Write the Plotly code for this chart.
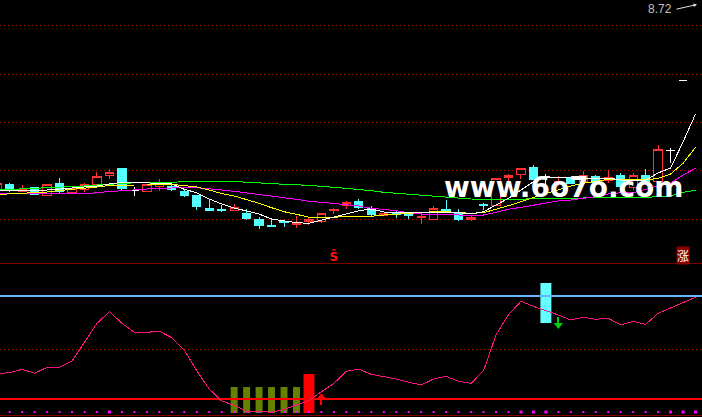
import plotly.graph_objects as go

BARS = list(range(-1, 56))
OPEN = [6.91,6.96,6.883,6.923,6.85,6.97,6.873,6.91,6.957,7.05,7.12,6.90,6.883,6.94,6.933,6.89,6.85,6.72,6.703,6.70,6.67,6.61,6.545,6.583,6.557,6.583,6.59,6.693,6.75,6.79,6.72,6.65,6.67,6.67,6.623,6.61,6.705,6.68,6.603,6.755,6.743,7.023,7.053,7.13,7.035,6.98,7.02,6.983,7.037,7.00,7.05,6.93,7.05,6.99,7.30,8.00,None]
HIGH = [6.97,6.97,6.95,6.93,6.96,7.02,6.93,6.973,7.08,7.11,7.12,6.93,6.96,7.01,6.947,6.913,6.85,6.80,6.75,6.76,6.71,6.63,6.62,6.60,6.64,6.62,6.67,6.723,6.79,6.81,6.74,6.67,6.69,6.67,6.67,6.74,6.80,6.71,6.64,6.77,7.02,7.06,7.12,7.15,7.06,7.04,7.03,7.09,7.05,7.10,7.07,7.07,7.11,7.35,7.32,8.00,None]
LOW = [6.90,6.883,6.88,6.86,6.85,6.87,6.86,6.883,6.93,7.01,6.90,6.843,6.883,6.893,6.89,6.83,6.70,6.69,6.68,6.69,6.60,6.51,6.53,6.53,6.52,6.55,6.57,6.66,6.71,6.71,6.64,6.65,6.62,6.61,6.56,6.60,6.68,6.59,6.59,6.70,6.74,6.95,7.01,7.00,6.95,6.94,6.96,6.98,6.97,6.97,6.92,6.90,6.98,6.97,7.17,8.00,None]
CLOSE = [6.97,6.907,6.907,6.86,6.96,6.883,6.92,6.96,7.04,7.08,6.92,6.90,6.96,6.97,6.91,6.85,6.74,6.70,6.697,6.725,6.62,6.55,6.535,6.573,6.573,6.607,6.67,6.71,6.78,6.73,6.66,6.67,6.66,6.643,6.64,6.72,6.70,6.61,6.627,6.75,7.02,7.047,7.12,7.01,7.035,6.99,6.97,7.05,6.977,7.03,6.94,7.05,6.99,7.31,7.30,8.00,None]

MA5 = [6.90,6.90,6.90,6.90,6.90,6.91,6.92,6.93,6.94,6.96,6.977,6.977,6.97,6.97,6.96,6.907,6.873,6.81,6.76,6.72,6.693,6.66,6.61,6.593,6.573,6.567,6.60,6.63,6.667,6.693,6.71,6.68,6.673,6.673,6.673,6.673,6.673,6.673,6.66,6.683,6.75,6.817,6.90,6.983,7.027,7.027,7.02,7.01,7.02,7.02,7.00,7.00,7.00,7.07,7.12,7.38,7.66]
MA10 = [6.855,6.86,6.865,6.875,6.88,6.895,6.905,6.915,6.93,6.945,6.95,6.95,6.95,6.955,6.955,6.945,6.93,6.90,6.865,6.84,6.807,6.767,6.723,6.683,6.657,6.627,6.627,6.627,6.637,6.637,6.637,6.65,6.66,6.667,6.677,6.683,6.683,6.673,6.667,6.673,6.707,6.743,6.783,6.827,6.867,6.90,6.94,6.967,6.99,7.007,7.007,7.00,7.00,7.017,7.06,7.167,7.327]
MA20 = [6.868,6.867,6.865,6.863,6.86,6.857,6.857,6.86,6.875,6.885,6.895,6.905,6.91,6.915,6.922,6.925,6.923,6.915,6.90,6.887,6.87,6.853,6.833,6.823,6.807,6.787,6.777,6.767,6.757,6.74,6.717,6.707,6.693,6.673,6.66,6.66,6.66,6.65,6.647,6.65,6.677,6.707,6.727,6.75,6.773,6.79,6.80,6.817,6.833,6.86,6.873,6.873,6.907,6.94,6.967,7.05,7.117]
MA60 = [6.90,6.905,6.91,6.915,6.922,6.927,6.933,6.94,6.95,6.958,6.967,6.972,6.975,6.977,6.98,6.985,6.987,6.987,6.987,6.985,6.977,6.967,6.963,6.957,6.953,6.947,6.937,6.927,6.917,6.907,6.893,6.877,6.867,6.857,6.847,6.837,6.823,6.817,6.81,6.807,6.807,6.807,6.807,6.807,6.807,6.807,6.813,6.82,6.82,6.82,6.823,6.827,6.827,6.833,6.84,6.877,6.897]
OSC = [25.5,26.3,29.7,25.7,31.7,31.7,38,57.3,75.7,87.3,75.7,66.7,66.7,67.7,61.3,49,28.3,10,-2,-6.3,-12.3,-12.3,-13.3,-10.3,-6.3,-1.7,7.3,15.7,27.7,29.7,24.7,22.3,20,16.7,14,20,22.7,17.7,15.7,28.3,64,84.3,97.7,92.7,88.7,84,79,81.7,79.7,80.7,74,77.7,74.7,85.7,91,96.7,101.7]

PRICE_GRID = [8.547, 8.055, 7.575, 7.095, 6.607]
OSC_GRID = [49.7]
LEVEL_BLUE = 103
LEVEL_RED = 0
LEVEL_SPAN = [-0.78, 55.5]
GREEN_BARS = [18,19,20,21,22,23]
GREEN_TOP = [12,12,12,12,12,12]
GREEN_BASE = [-14,-14,-14,-14,-14,-14]
RED_BAR, RED_TOP, RED_BASE = 24, 25, -14
CYAN_BAR, CYAN_TOP, CYAN_BASE = 43, 116, 76
DOT_SMALL = [0,1,2,3,4,5,6,7,9,10,11,12,13,14,15,16,17,18,19,20,21,22,23,24,25,26,27,28,29,30,31,32,33,34,35,36,37,38,39,40,44,45,46,47,48,49,50,51,52]
DOT_BIG = [8,41,42,43,53,54,55]
DOT_LEVEL = -13

fig = go.Figure()
P = dict(xaxis="x", yaxis="y")
L = dict(xaxis="x", yaxis="y2")

n = range(len(BARS))
idx = [i for i in n if OPEN[i] is not None and OPEN[i] != CLOSE[i]]
fig.add_trace(go.Candlestick(
    x=[BARS[i] for i in idx], open=[OPEN[i] for i in idx], high=[HIGH[i] for i in idx],
    low=[LOW[i] for i in idx], close=[CLOSE[i] for i in idx], whiskerwidth=0,
    increasing=dict(line=dict(color="#FF3232", width=1), fillcolor="#000000"),
    decreasing=dict(line=dict(color="#54FFFF", width=1), fillcolor="#54FFFF"), **P))
wid = [i for i in n if OPEN[i] is not None and OPEN[i] == CLOSE[i]]
fig.add_trace(go.Candlestick(
    x=[BARS[i] for i in wid], open=[OPEN[i] for i in wid], high=[HIGH[i] for i in wid],
    low=[LOW[i] for i in wid], close=[CLOSE[i] for i in wid], whiskerwidth=0,
    increasing=dict(line=dict(color="#FFFFFF", width=1), fillcolor="#FFFFFF"),
    decreasing=dict(line=dict(color="#FFFFFF", width=1), fillcolor="#FFFFFF"), **P))
for vals, col in [(MA60, "#00FF00"), (MA20, "#FF00FF"), (MA10, "#FFFF00"), (MA5, "#FFFFFF")]:
    fig.add_trace(go.Scatter(x=BARS, y=vals, mode="lines", line=dict(color=col, width=1), **P))
fig.add_trace(go.Scatter(x=[26], y=[6.225], mode="text", text=["<b>Ŝ</b>"],
                         textfont=dict(color="#FF1010", size=12, family="DejaVu Sans"), **P))

fig.add_trace(go.Scatter(x=DOT_SMALL, y=[DOT_LEVEL]*len(DOT_SMALL), mode="markers",
                         marker=dict(symbol="square", size=2, color="#FF00FF", line=dict(width=0)), **L))
fig.add_trace(go.Scatter(x=DOT_BIG, y=[DOT_LEVEL]*len(DOT_BIG), mode="markers",
                         marker=dict(symbol="square", size=3, color="#FF00FF", line=dict(width=0)), **L))
fig.add_trace(go.Scatter(x=LEVEL_SPAN, y=[LEVEL_BLUE]*2, mode="lines", line=dict(color="#64B4FF", width=2), **L))
fig.add_trace(go.Scatter(x=LEVEL_SPAN, y=[LEVEL_RED]*2, mode="lines", line=dict(color="#FF0000", width=2), **L))
fig.add_trace(go.Bar(x=GREEN_BARS, y=[t-b for t, b in zip(GREEN_TOP, GREEN_BASE)], base=GREEN_BASE,
                     width=0.56, marker=dict(color="#648200", line=dict(width=0)), **L))
fig.add_trace(go.Bar(x=[RED_BAR], y=[RED_TOP-RED_BASE], base=[RED_BASE], width=0.88,
                     marker=dict(color="#FF0000", line=dict(width=0)), **L))
fig.add_trace(go.Bar(x=[CYAN_BAR], y=[CYAN_TOP-CYAN_BASE], base=[CYAN_BASE], width=0.88,
                     marker=dict(color="#64FFFF", line=dict(width=0)), **L))
fig.add_trace(go.Scatter(x=BARS, y=OSC, mode="lines", line=dict(color="#FF1480", width=1), **L))
# buy / sell signals
fig.add_trace(go.Scatter(x=[25, 25], y=[-6, 4], mode="lines", line=dict(color="#FF0000", width=2), **L))
fig.add_trace(go.Scatter(x=[25], y=[2], mode="markers",
                         marker=dict(symbol="triangle-up", size=8, color="#FF0000", line=dict(width=0)), **L))
fig.add_trace(go.Scatter(x=[44, 44], y=[82, 72], mode="lines", line=dict(color="#00D010", width=2), **L))
fig.add_trace(go.Scatter(x=[44], y=[74], mode="markers",
                         marker=dict(symbol="triangle-down", size=8, color="#00D010", line=dict(width=0)), **L))

fig.update_layout(
    width=702, height=417, margin=dict(l=0, r=0, t=0, b=0), showlegend=False,
    paper_bgcolor="#000000", plot_bgcolor="#000000", barmode="overlay", boxgap=0.05,
    xaxis=dict(range=[-0.778, 55.52], visible=False, rangeslider=dict(visible=False), fixedrange=True),
    yaxis=dict(domain=[1-263/417, 1], range=[6.17, 8.80], tickvals=PRICE_GRID, showticklabels=False,
               ticks="", showgrid=True, gridcolor="#B00000", griddash="1px,3px", gridwidth=1,
               zeroline=False, showline=False),
    yaxis2=dict(domain=[0, 1-264/417], range=[-18, 135], tickvals=OSC_GRID, showticklabels=False,
                ticks="", showgrid=True, gridcolor="#B00000", griddash="1px,3px", gridwidth=1,
                zeroline=False, showline=False),
    shapes=[
        dict(type="line", xref="paper", yref="paper", x0=0, x1=1, y0=1-263.5/417, y1=1-263.5/417,
             line=dict(color="#800000", width=1)),
        dict(type="line", xref="paper", yref="paper", x0=0, x1=1, y0=1-415.5/417, y1=1-415.5/417,
             line=dict(color="#800000", width=1)),
    ],
    annotations=[
        dict(text="<b>www.6o7o.com</b>", xref="paper", yref="paper", x=564/702, y=1-187/417, showarrow=False,
             xanchor="center", yanchor="middle",
             font=dict(family="DejaVu Sans", size=28, color="#FFFFFF")),
        dict(text="涨", xref="paper", yref="paper", x=682.5/702, y=1-255.5/417, showarrow=False,
             xanchor="center", yanchor="middle",
             font=dict(family="Noto Sans CJK SC", size=12, color="#FFFFFF"), bgcolor="#8B0000",
             borderpad=0),
        dict(text="8.72", xref="paper", yref="paper", x=660/702, y=1-9.5/417, showarrow=False,
             xanchor="center", yanchor="middle",
             font=dict(family="Liberation Sans", size=12, color="#C0C0C0")),
        dict(text="", xref="paper", yref="paper", x=697/702, y=1-4.5/417, ax=-22, ay=5,
             showarrow=True, arrowhead=2, arrowsize=0.7, arrowwidth=1,
             arrowcolor="#E0E0E0"),
    ],
)
fig.write_html("out.html", config=dict(displayModeBar=False),
               post_script="document.body.style.margin='0';document.body.style.overflow='hidden';"
                           "document.querySelectorAll('path.js-line, .boxes path').forEach(function(e){e.style.shapeRendering='crispEdges';});")
